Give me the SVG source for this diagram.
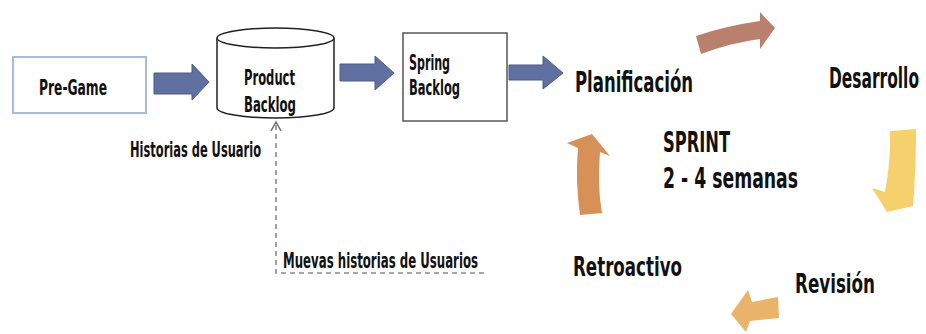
<svg xmlns="http://www.w3.org/2000/svg" width="926" height="334" viewBox="0 0 926 334">
<style>
.t{font-family:"Liberation Sans Narrow","DejaVu Sans Condensed","Roboto Condensed","Liberation Sans",sans-serif;font-stretch:condensed;font-weight:bold;fill:#111;}
.blue{fill:#6070a0;stroke:#4c5b8a;stroke-width:1;}
.dash{fill:none;stroke:#8a8a8a;stroke-width:1.6;stroke-dasharray:5 4;}
</style>
<rect width="926" height="334" fill="#fff"/>
<g id="connectors">
<polygon class="blue" points="154,73 192,73 192,64 209,82 192,100 192,94 154,94"/>
<polygon class="blue" points="340,64 375,64 375,56 394,73 375,90 375,81 340,81"/>
<polygon class="blue" points="509,65 543,65 543,56 563,73 543,89 543,80 509,80"/>
<path class="dash" d="M276,125 V273 H487"/>
<path d="M271,131 L276,122 L281,131" fill="none" stroke="#666" stroke-width="1.4"/>
<path id="arrow-plan-des" d="M696,36 Q725,26 760,21 L760,12 L775,28 L760,49 L760,39 Q730,43 701,54 Z" fill="#b9816d"/>
<path id="arrow-des-rev" d="M890,131 L916,129 Q916,170 913,206 L887,212 L872,188 L885,192 Q891,160 890,131 Z" fill="#f6d06c"/>
<path id="arrow-rev-ret" d="M778,297 L752,302 L748,290 L731,314 L746,332 L750,321 L779,318 Z" fill="#e9b469"/>
<path id="arrow-ret-plan" d="M580,215 Q575,180 578,148 L567,143 L592,134 L610,156 L600,152 Q597,185 602,213 Z" fill="#d69058"/>
</g>
<g id="pre-game">
<rect x="13" y="57" width="133" height="56" fill="#fff" stroke="#a9bcd6" stroke-width="2"/>
<text class="t" x="39" y="95" font-size="21" textLength="68" lengthAdjust="spacingAndGlyphs">Pre-Game</text>
</g>
<g id="product-backlog">
<path d="M217,38 V108 A58.5,10 0 0 0 334,108 V38" fill="#fff" stroke="#222" stroke-width="1.5"/>
<ellipse cx="275.5" cy="38" rx="58.5" ry="10" fill="#fff" stroke="#222" stroke-width="1.5"/>
<text class="t" x="244" y="85" font-size="21" textLength="51" lengthAdjust="spacingAndGlyphs">Product</text>
<text class="t" x="244" y="112" font-size="21" textLength="52" lengthAdjust="spacingAndGlyphs">Backlog</text>
</g>
<g id="historias">
<text class="t" x="130" y="157" font-size="21" textLength="131" lengthAdjust="spacingAndGlyphs">Historias de Usuario</text>
</g>
<g id="spring-backlog">
<rect x="403" y="33" width="104" height="88" fill="#fff" stroke="#555" stroke-width="1.5"/>
<text class="t" x="409" y="70" font-size="21" textLength="41" lengthAdjust="spacingAndGlyphs">Spring</text>
<text class="t" x="409" y="95" font-size="21" textLength="51" lengthAdjust="spacingAndGlyphs">Backlog</text>
</g>
<g id="muevas">
<text class="t" x="283" y="268" font-size="21" textLength="195" lengthAdjust="spacingAndGlyphs">Muevas historias de Usuarios</text>
</g>
<g id="planificacion">
<text class="t" x="575" y="92" font-size="29" textLength="118" lengthAdjust="spacingAndGlyphs">Planificación</text>
</g>
<g id="desarrollo">
<text class="t" x="829" y="88" font-size="28" textLength="90" lengthAdjust="spacingAndGlyphs">Desarrollo</text>
</g>
<g id="sprint">
<text class="t" x="663" y="152" font-size="29" textLength="67" lengthAdjust="spacingAndGlyphs">SPRINT</text>
<text class="t" x="663" y="188" font-size="29" textLength="135" lengthAdjust="spacingAndGlyphs">2 - 4 semanas</text>
</g>
<g id="revision">
<text class="t" x="795" y="293" font-size="27" textLength="80" lengthAdjust="spacingAndGlyphs">Revisión</text>
</g>
<g id="retroactivo">
<text class="t" x="573" y="276" font-size="26" textLength="109" lengthAdjust="spacingAndGlyphs">Retroactivo</text>
</g>
</svg>
